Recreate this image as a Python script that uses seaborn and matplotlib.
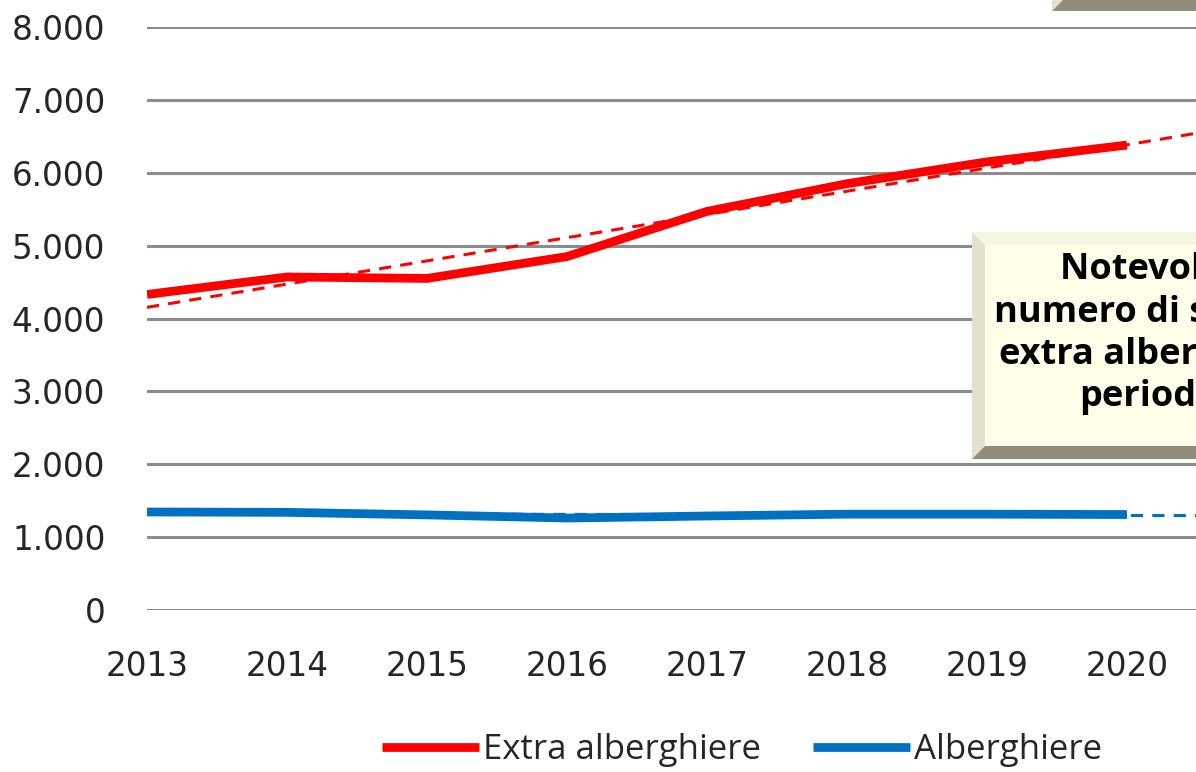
"""
Strutture ricettive 2013-2020: extra alberghiere vs alberghiere
"""
import numpy as np
import pandas as pd
import matplotlib
matplotlib.use('Agg')
import matplotlib.pyplot as plt
from matplotlib.patches import Polygon, Rectangle
from matplotlib.ticker import FuncFormatter
import seaborn as sns

# Dati
anni = [2013, 2014, 2015, 2016, 2017, 2018, 2019, 2020]
extra_alberghiere = [4330, 4570, 4550, 4850, 5470, 5850, 6150, 6380]
alberghiere = [1345, 1340, 1305, 1262, 1290, 1315, 1315, 1310]
serie = ['Extra alberghiere', 'Alberghiere']
colori = ['#FF0000', '#0070C0']

nota = ['Notevole aumento del', 'numero di strutture', 'extra alberghiere nel', 'periodo']

W, H = 1196, 772

df = pd.DataFrame({
    'Anno': anni * 2,
    'Strutture': extra_alberghiere + alberghiere,
    'Tipo': [serie[0]] * len(anni) + [serie[1]] * len(anni),
})

sns.set_theme(style='white')
plt.rcParams['font.family'] = ['DejaVu Sans']

fig = plt.figure(figsize=(W / 100, H / 100), dpi=100)
ax = fig.add_axes([147 / W, 1 - 610 / H, 1 - 147 / W, (610 - 27) / H])

# Linee di tendenza (regressione lineare)
x_ext = np.array([anni[0], anni[-1] + 1])
for valori, col in zip([extra_alberghiere, alberghiere], colori):
    coef = np.polyfit(anni, valori, 1)
    ax.plot(x_ext, np.polyval(coef, x_ext), color=col, lw=2.2, ls=(0, (4, 3)), zorder=2)

sns.lineplot(data=df, x='Anno', y='Strutture', hue='Tipo', palette=colori,
             hue_order=serie, lw=6.3, ax=ax, zorder=3, legend=True)
for line in ax.get_lines():
    line.set_solid_capstyle('butt')

ax.set_xlim(2013, 2013 + (W - 147) / 140)
ax.set_ylim(0, 8000)
ax.set_yticks(range(0, 8001, 1000))
ax.set_xticks(anni)
ax.yaxis.set_major_formatter(FuncFormatter(lambda v, p: f'{int(v):,}'.replace(',', '.')))
ax.grid(axis='y', color='#8c8c8c', lw=2.2)
ax.grid(axis='x', visible=False)
for s in ax.spines.values():
    s.set_visible(False)
ax.tick_params(axis='y', length=0, pad=30, labelsize=23.5, labelcolor='#262626')
ax.tick_params(axis='x', length=0, pad=29, labelsize=23.5, labelcolor='#262626')
ax.set_xlabel('')
ax.set_ylabel('')

# Legenda
handles, labels = ax.get_legend_handles_labels()
ax.legend_.remove()
leg = fig.legend(handles, labels, loc='center', bbox_to_anchor=(742 / W, 1 - 750 / H),
                 ncol=2, frameon=False, handlelength=2.8, handletextpad=0.1,
                 columnspacing=1.5, prop={'family': 'Open Sans', 'size': 25})
for h in leg.get_lines():
    h.set_linewidth(6.3)


def px(x, y):
    return (x / W, 1 - y / H)


def riquadro(x0, y0, x1, y1, b):
    # cornice smussata stile Excel
    top = Polygon([px(x0, y0), px(x1, y0), px(x1 - b, y0 + b), px(x0 + b, y0 + b)],
                  closed=True, transform=fig.transFigure, fc='#f6f4e2', ec='none')
    left = Polygon([px(x0, y0), px(x0 + b, y0 + b), px(x0 + b, y1 - b), px(x0, y1)],
                   closed=True, transform=fig.transFigure, fc='#e3e1cb', ec='none')
    bottom = Polygon([px(x0, y1), px(x0 + b, y1 - b), px(x1 - b, y1 - b), px(x1, y1)],
                     closed=True, transform=fig.transFigure, fc='#8f8e7c', ec='none')
    inner = Rectangle(px(x0 + b, y1 - b), (x1 - x0 - 2 * b) / W, (y1 - y0 - 2 * b) / H,
                      transform=fig.transFigure, fc='#fefee8', ec='none')
    for p in (top, left, bottom, inner):
        fig.add_artist(p)


# riquadro in alto (tagliato)
riquadro(1052, -120, 1400, 11, 11)

# riquadro nota
riquadro(972, 232, 1500, 459, 13)
for testo, x0, y0 in zip(nota, [1060, 994, 999, 1079], [270, 313, 355, 397]):
    fig.text(x0 / W, 1 - y0 / H, testo, ha='left', va='center', fontsize=26,
             fontweight='bold', family='Open Sans', color='black')

fig.savefig('out.png', dpi=100)
